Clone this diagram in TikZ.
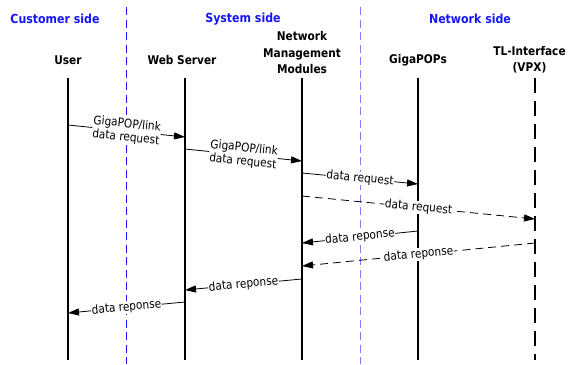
\documentclass[tikz,border=0pt]{standalone}
\usepackage{fontspec}
\setmainfont[FakeStretch=0.88]{DejaVu Sans}
\usetikzlibrary{arrows.meta}
\definecolor{sideblue}{RGB}{20,20,255}
\definecolor{paleblue}{RGB}{125,125,255}
\tikzset{
  sidehead/.style={font=\bfseries\fontsize{12.5}{15}\selectfont, text=sideblue, inner sep=0pt},
  actor/.style={font=\bfseries\fontsize{12}{16.5}\selectfont, align=center, inner sep=0pt},
  lifeline/.style={line width=2pt},
  lifelinedash/.style={line width=2.4pt, dash pattern=on 15pt off 8pt},
  divider/.style={line width=1pt, dash pattern=on 8pt off 4.5pt},
  msg/.style={line width=0.8pt, -{Triangle[length=11pt,width=7pt]}},
  msgdash/.style={msg, dash pattern=on 8pt off 5pt},
  msglabel/.style={midway, sloped, fill=white, inner sep=0.6pt, align=center,
    font=\fontsize{12}{13.5}\selectfont},
}
\begin{document}
\begin{tikzpicture}[x=1pt,y=-1pt]
\useasboundingbox (0,0) rectangle (569,364);

% side headings and dividers
\node[sidehead] (hcust) at (55,19) {Customer side};
\node[sidehead] (hsys) at (243,19) {System side};
\node[sidehead] (hnet) at (470,19) {Network side};
\coordinate (d1top) at (126,7);
\coordinate (d1bot) at (126,364);
\coordinate (d2top) at (360,7);
\coordinate (d2bot) at (360,364);
\draw[divider, sideblue] (d1top) -- (d1bot);
\draw[divider, paleblue] (d2top) -- (d2bot);

% participants
\node[actor] (user) at (68,60) {User};
\node[actor] (web) at (182,60) {Web Server};
\node[actor] (nmm) at (302,53) {Network\\Management\\Modules};
\node[actor] (giga) at (418,60) {GigaPOPs};
\node[actor] (tl) at (529.5,59.5) {TL-Interface\\(VPX)};

% lifelines
\foreach \n/\x in {u/68, w/185, n/302, g/418, t/535}{
  \coordinate (\n top) at (\x,78);
  \coordinate (\n bot) at (\x,360);
}
\draw[lifeline] (utop) -- (ubot);
\draw[lifeline] (wtop) -- (wbot);
\draw[lifeline] (ntop) -- (nbot);
\draw[lifeline] (gtop) -- (gbot);
\draw[lifelinedash] (ttop) -- (tbot);

% message end points on the lifelines
\coordinate (m1a) at (68,125);  \coordinate (m1b) at (185,137);
\coordinate (m2a) at (185,149); \coordinate (m2b) at (302,161);
\coordinate (m3a) at (302,173); \coordinate (m3b) at (418,184);
\coordinate (m4a) at (302,196); \coordinate (m4b) at (535,219);
\coordinate (m5a) at (418,231); \coordinate (m5b) at (302,243);
\coordinate (m6a) at (535,243); \coordinate (m6b) at (302,266);
\coordinate (m7a) at (302,279); \coordinate (m7b) at (185,290);
\coordinate (m8a) at (185,302); \coordinate (m8b) at (68,313);

% messages
\draw[msg] (m1a) -- node[msglabel] {GigaPOP/link\\data request} (m1b);
\draw[msg] (m2a) -- node[msglabel] {GigaPOP/link\\data request} (m2b);
\draw[msg] (m3a) -- node[msglabel] {data request} (m3b);
\draw[msgdash] (m4a) -- node[msglabel] {data request} (m4b);
\draw[msg] (m5a) -- node[msglabel] {data reponse} (m5b);
\draw[msgdash] (m6a) -- node[msglabel] {data reponse} (m6b);
\draw[msg] (m7a) -- node[msglabel] {data reponse} (m7b);
\draw[msg] (m8a) -- node[msglabel] {data reponse} (m8b);
\end{tikzpicture}
\end{document}
